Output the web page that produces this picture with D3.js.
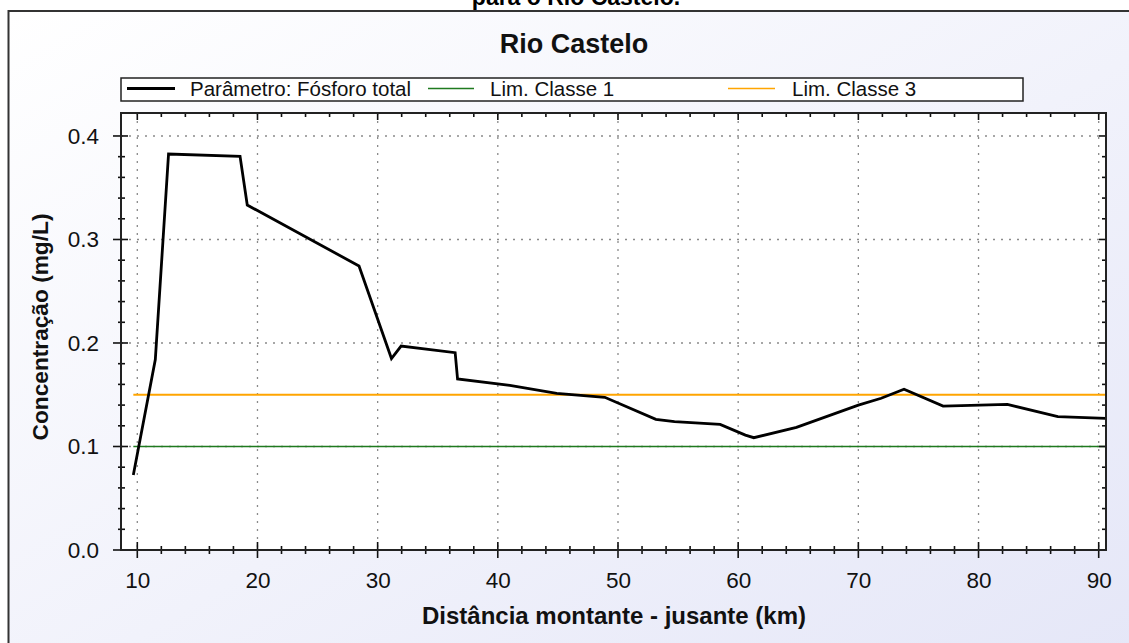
<!DOCTYPE html>
<html>
<head>
<meta charset="utf-8">
<script src="https://cdn.jsdelivr.net/npm/d3@7"></script>
<style>
  html, body { margin: 0; padding: 0; background: #ffffff; }
  svg { display: block; font-family: "Liberation Sans", Arial, sans-serif; }
</style>
</head>
<body>
<svg id="chart" width="1129" height="643"></svg>
<script>
// ---- Data ----
const distanceKm = [9.67, 11.5, 12.6, 18.55, 19.15, 28.45, 31.15, 31.95, 36.45, 36.65, 41.0, 44.9, 48.9, 53.15, 54.7, 58.5, 60.6, 61.3, 64.85, 70.0, 71.9, 73.8, 77.05, 82.4, 86.6, 90.6];
const fosforo    = [0.0725, 0.184, 0.3826, 0.3804, 0.3333, 0.2744, 0.185, 0.197, 0.1906, 0.1652, 0.159, 0.1514, 0.1475, 0.1263, 0.124, 0.1214, 0.111, 0.1085, 0.1185, 0.140, 0.1466, 0.1553, 0.139, 0.1407, 0.1288, 0.1272];
const limClasse1 = [0.1, 0.1];
const limClasse3 = [0.15, 0.15];
const limKm = [9.67, 90.6];
const xTicks = [10, 20, 30, 40, 50, 60, 70, 80, 90];
const yTicks = [0.0, 0.1, 0.2, 0.3, 0.4];
const seriesNames = ["Parâmetro: Fósforo total", "Lim. Classe 1", "Lim. Classe 3"];
const docCaption = "para o Rio Castelo.";
const chartTitle = "Rio Castelo";
const xLabel = "Distância montante - jusante (km)";
const yLabel = "Concentração (mg/L)";

// ---- Layout ----
const svg = d3.select("#chart");
const L = 121, R = 1106, T = 113, B = 550;
const x = d3.scaleLinear().domain([8.644, 90.607]).range([L, R]);
const y = d3.scaleLinear().domain([0, 0.4222]).range([B, T]);

const defs = svg.append("defs");
const grad = defs.append("linearGradient").attr("id", "bg")
  .attr("x1", "0%").attr("y1", "0%").attr("x2", "100%").attr("y2", "100%");
grad.append("stop").attr("offset", "0%").attr("stop-color", "#ffffff");
grad.append("stop").attr("offset", "100%").attr("stop-color", "#e3e5f7");

// caption fragment at top (cut off in the reference too)
svg.append("text").attr("x", 576).attr("y", 5).attr("text-anchor", "middle")
  .attr("font-weight", "bold").attr("font-size", 23).attr("fill", "#000").text(docCaption);

// panel
svg.append("rect").attr("x", 8.5).attr("y", 11).attr("width", 1200).attr("height", 700)
  .attr("fill", "url(#bg)").attr("stroke", "#333").attr("stroke-width", 2);

// title
svg.append("text").attr("x", 574).attr("y", 53).attr("text-anchor", "middle")
  .attr("font-weight", "bold").attr("font-size", 27).attr("fill", "#111").text(chartTitle);

// legend
const lg = svg.append("g");
lg.append("rect").attr("x", 121).attr("y", 78).attr("width", 902).attr("height", 23)
  .attr("fill", "#fff").attr("stroke", "#222").attr("stroke-width", 1.5);
const legendItems = [
  { name: seriesNames[0], x0: 127, x1: 175, tx: 190, color: "#000", w: 3 },
  { name: seriesNames[1], x0: 428, x1: 474, tx: 490, color: "#1f7a1f", w: 1.5 },
  { name: seriesNames[2], x0: 728, x1: 775, tx: 792, color: "#ffa500", w: 1.5 }
];
legendItems.forEach(d => {
  lg.append("line").attr("x1", d.x0).attr("x2", d.x1).attr("y1", 88.5).attr("y2", 88.5)
    .attr("stroke", d.color).attr("stroke-width", d.w);
  lg.append("text").attr("x", d.tx).attr("y", 96).attr("font-size", 20.5).attr("fill", "#111").text(d.name);
});

// plot area
svg.append("rect").attr("x", L).attr("y", T).attr("width", R - L).attr("height", B - T).attr("fill", "#fff");

// grid
const grid = svg.append("g").attr("stroke", "#8a8a8a").attr("stroke-width", 1.3).attr("stroke-dasharray", "2,6");
xTicks.forEach(v => grid.append("line").attr("x1", x(v)).attr("x2", x(v)).attr("y1", T).attr("y2", B));
yTicks.filter(v => v > 0).forEach(v => grid.append("line").attr("x1", L).attr("x2", R).attr("y1", y(v)).attr("y2", y(v)));

// limit lines
const lineGen = d3.line().x(d => x(d[0])).y(d => y(d[1]));
svg.append("path").datum(limKm.map((k, i) => [k, limClasse1[i]])).attr("d", lineGen)
  .attr("fill", "none").attr("stroke", "#1f7a1f").attr("stroke-width", 1.5);
svg.append("path").datum(limKm.map((k, i) => [k, limClasse3[i]])).attr("d", lineGen)
  .attr("fill", "none").attr("stroke", "#ffa500").attr("stroke-width", 1.8);

// main series
svg.append("path").datum(distanceKm.map((k, i) => [k, fosforo[i]])).attr("d", lineGen)
  .attr("fill", "none").attr("stroke", "#000").attr("stroke-width", 2.8).attr("stroke-linejoin", "miter");

// axes
const minorX = d3.range(10, 91, 2).filter(v => v % 10 !== 0);
const minorY = d3.range(0.02, 0.42, 0.02).filter(v => Math.abs(v * 10 - Math.round(v * 10)) > 1e-6);

// bottom axis
const bottom = svg.append("g").attr("transform", `translate(0,${B})`)
  .call(d3.axisBottom(x).tickValues(xTicks).tickSize(0).tickPadding(22).tickFormat(d3.format("d")));
bottom.select(".domain").remove();
bottom.selectAll("text").attr("font-size", 22.5).attr("fill", "#111").attr("font-family", "Liberation Sans, Arial, sans-serif");
const bt = svg.append("g").attr("stroke", "#111").attr("stroke-width", 1.6);
xTicks.forEach(v => bt.append("line").attr("x1", x(v)).attr("x2", x(v)).attr("y1", B - 8).attr("y2", B + 8));
minorX.forEach(v => bt.append("line").attr("x1", x(v)).attr("x2", x(v)).attr("y1", B - 4).attr("y2", B + 4));
// top ticks (inward)
xTicks.forEach(v => bt.append("line").attr("x1", x(v)).attr("x2", x(v)).attr("y1", T).attr("y2", T + 7));
minorX.forEach(v => bt.append("line").attr("x1", x(v)).attr("x2", x(v)).attr("y1", T).attr("y2", T + 4));

// left axis
const left = svg.append("g").attr("transform", `translate(${L},0)`)
  .call(d3.axisLeft(y).tickValues(yTicks).tickSize(0).tickPadding(22).tickFormat(d3.format(".1f")));
left.select(".domain").remove();
left.selectAll("text").attr("font-size", 22.5).attr("fill", "#111").attr("font-family", "Liberation Sans, Arial, sans-serif");
yTicks.forEach(v => bt.append("line").attr("x1", L - 8).attr("x2", L + 7).attr("y1", y(v)).attr("y2", y(v)));
minorY.forEach(v => bt.append("line").attr("x1", L - 3).attr("x2", L + 4).attr("y1", y(v)).attr("y2", y(v)));
// right ticks (inward)
yTicks.forEach(v => bt.append("line").attr("x1", R - 7).attr("x2", R).attr("y1", y(v)).attr("y2", y(v)));
minorY.forEach(v => bt.append("line").attr("x1", R - 4).attr("x2", R).attr("y1", y(v)).attr("y2", y(v)));

// frame
svg.append("rect").attr("x", L).attr("y", T).attr("width", R - L).attr("height", B - T)
  .attr("fill", "none").attr("stroke", "#222").attr("stroke-width", 2);

// axis titles
svg.append("text").attr("x", 614).attr("y", 624).attr("text-anchor", "middle")
  .attr("font-weight", "bold").attr("font-size", 24).attr("fill", "#111").text(xLabel);
svg.append("text").attr("transform", "translate(48,327) rotate(-90)").attr("text-anchor", "middle")
  .attr("font-weight", "bold").attr("font-size", 22.7).attr("fill", "#111").text(yLabel);
</script>
</body>
</html>
